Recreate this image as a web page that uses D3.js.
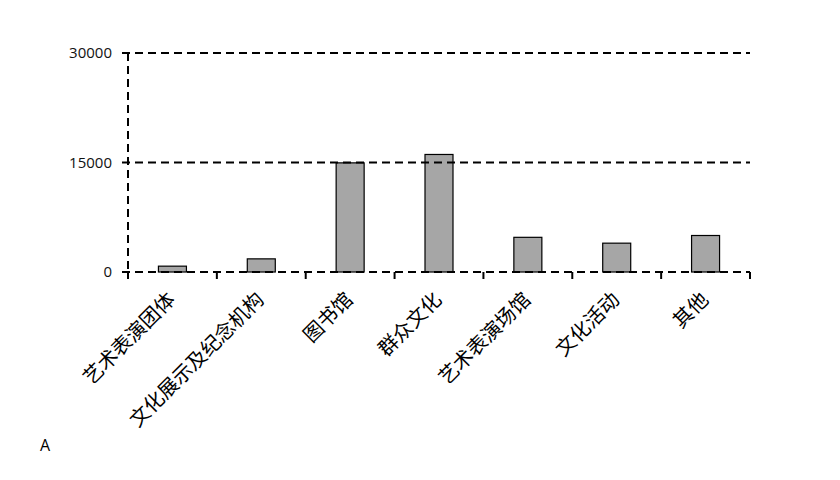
<!DOCTYPE html>
<html lang="zh">
<head>
    <meta charset="utf-8">
    <title>文化类别柱状图</title>
    <script src="https://cdn.jsdelivr.net/npm/d3@7"></script>
    <style>
        body { margin: 0; background: #fff; }
        .ylab { font-family: "Open Sans", "DejaVu Sans", sans-serif; font-size: 15px; fill: #111; }
        .xlab { font-family: "Noto Sans CJK SC", sans-serif; font-size: 20px; fill: #000; }
    </style>
</head>
<body>
<script>
    // data
    var categories = ["艺术表演团体", "文化展示及纪念机构", "图书馆", "群众文化", "艺术表演场馆", "文化活动", "其他"];
    var values = [800, 1800, 14950, 16100, 4750, 3950, 5000];
    var yTicks = [0, 15000, 30000];

    var w = 840, h = 480;
    var mLeft = 128, mRight = 750, mTop = 53, mBottom = 272;

    var svg = d3.select("body").append("svg")
        .attr("width", w)
        .attr("height", h);

    var x = d3.scaleBand()
        .domain(categories)
        .range([mLeft, mRight]);

    var y = d3.scaleLinear()
        .domain([0, 30000])
        .range([mBottom, mTop]);

    // bars
    var bw = 28;
    svg.selectAll("rect.bar")
        .data(values)
        .enter().append("rect")
        .attr("class", "bar")
        .attr("x", function(d, i) { return x(categories[i]) + x.bandwidth() / 2 - bw / 2; })
        .attr("y", function(d) { return y(d); })
        .attr("width", bw)
        .attr("height", function(d) { return mBottom - y(d); })
        .style("fill", "#a6a6a6")
        .style("stroke", "#000")
        .style("stroke-width", 1.2);

    // gridlines (dashed, includes the baseline), drawn over the bars
    svg.selectAll("line.grid")
        .data(yTicks)
        .enter().append("line")
        .attr("class", "grid")
        .attr("x1", mLeft - 6)
        .attr("x2", mRight)
        .attr("y1", function(d) { return y(d); })
        .attr("y2", function(d) { return y(d); })
        .style("stroke", "#000")
        .style("stroke-width", 2)
        .style("stroke-dasharray", "8,5");

    // y axis line, dashed
    svg.append("line")
        .attr("x1", mLeft).attr("x2", mLeft)
        .attr("y1", mTop).attr("y2", mBottom)
        .style("stroke", "#000")
        .style("stroke-width", 2)
        .style("stroke-dasharray", "8,5");

    // y tick labels
    svg.selectAll("text.ylab")
        .data(yTicks)
        .enter().append("text")
        .attr("class", "ylab")
        .attr("x", mLeft - 16)
        .attr("y", function(d) { return y(d); })
        .attr("dy", "0.35em")
        .attr("text-anchor", "end")
        .text(function(d) { return d; });

    // x ticks at band edges
    var edges = categories.map(function(c) { return x(c); }).concat([mRight]);
    svg.selectAll("line.xtick")
        .data(edges)
        .enter().append("line")
        .attr("class", "xtick")
        .attr("x1", function(d) { return d; })
        .attr("x2", function(d) { return d; })
        .attr("y1", mBottom)
        .attr("y2", mBottom + 7)
        .style("stroke", "#000")
        .style("stroke-width", 2);

    // rotated category labels
    svg.selectAll("text.xlab")
        .data(categories)
        .enter().append("text")
        .attr("class", "xlab")
        .attr("text-anchor", "end")
        .attr("transform", function(d) {
            var cx = x(d) + x.bandwidth() / 2 - 1;
            return "translate(" + cx + "," + (mBottom + 24) + ") rotate(-45)";
        })
        .attr("dy", "0.35em")
        .text(function(d) { return d; });

    // panel letter
    svg.append("text")
        .attr("x", 40)
        .attr("y", 451)
        .style("font-family", "'Open Sans', sans-serif")
        .style("font-size", "16px")
        .text("A");
</script>
</body>
</html>
